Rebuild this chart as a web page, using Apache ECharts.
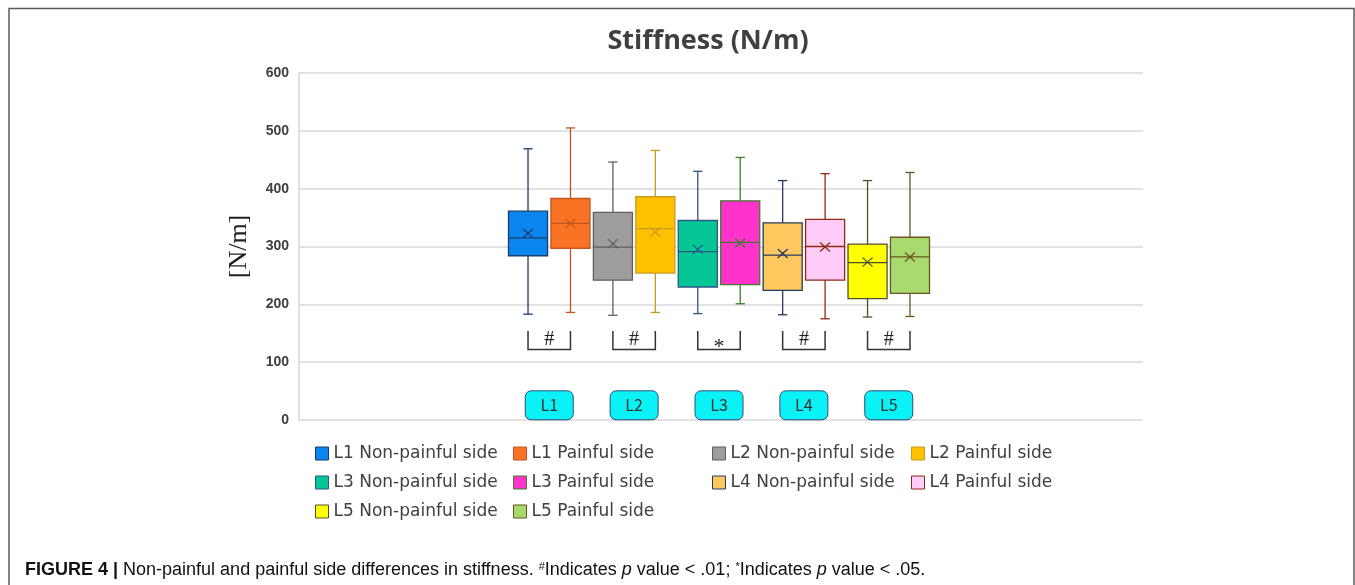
<!DOCTYPE html>
<html><head><meta charset="utf-8">
<script src="https://cdn.jsdelivr.net/npm/echarts@6/dist/echarts.min.js"></script>
<style>html,body{margin:0;padding:0;background:#fff}#c{width:1355px;height:585px}</style>
</head><body><div id="c"></div>
<script>
// ---- data ----
const categories = ['L1 Non-painful side','L1 Painful side','L2 Non-painful side','L2 Painful side','L3 Non-painful side','L3 Painful side','L4 Non-painful side','L4 Painful side','L5 Non-painful side','L5 Painful side'];
const mins    = [183, 186, 181, 186, 184, 201, 182, 175, 178, 179];
const q1s     = [284, 297, 242, 254, 230, 234, 224, 242, 210, 219];
const medians = [315, 340, 299, 331, 291, 307, 285, 300, 272, 282];
const q3s     = [361, 383, 359, 386, 345, 379, 341, 347, 304, 316];
const maxs    = [469, 505, 446, 466, 430, 454, 414, 426, 414, 428];
const means   = [323, 340, 305, 325, 295, 306, 288, 299, 273, 282];
const levels = ['L1','L2','L3','L4','L5'];
const significance = ['#','#','*','#','#'];
const yMin = 0, yMax = 600, yStep = 100;

// ---- styles ----
const fills   = ['#0B86EE','#FA7324','#9D9D9D','#FFC000','#05C796','#FF33CC','#FFC85F','#FFCCF7','#FFFF00','#A8DA70'];
const borders = ['#1B3C6E','#C0561F','#5E5E5E','#C99A22','#2C5586','#3E7E2A','#243A5E','#8E2A10','#505028','#6B5520'];
const bracketTop = 154, bracketBottom = 122, sigY = 138, labelY = 25.4;

const chart = echarts.init(document.getElementById('c'));

function renderBox(params, api) {
  const i = api.value(0);
  const pMin = api.coord([i, api.value(1)]);
  const pQ1 = api.coord([i, api.value(2)]);
  const pMed = api.coord([i, api.value(3)]);
  const pQ3 = api.coord([i, api.value(4)]);
  const pMax = api.coord([i, api.value(5)]);
  const pMean = api.coord([i, api.value(6)]);
  const band = api.size([1, 0])[0];
  const bw = band * 0.92, cap = band * 0.22;
  const cx = pMed[0];
  const stroke = borders[i], fill = fills[i];
  const ls = {stroke: stroke, lineWidth: 1.3};
  const L = (x1,y1,x2,y2) => ({type:'line', shape:{x1,y1,x2,y2}, style: ls});
  return {type:'group', children: [
    L(cx, pMax[1], cx, pQ3[1]),
    L(cx-cap/2, pMax[1], cx+cap/2, pMax[1]),
    L(cx, pQ1[1], cx, pMin[1]),
    L(cx-cap/2, pMin[1], cx+cap/2, pMin[1]),
    {type:'rect', shape:{x:cx-bw/2, y:pQ3[1], width:bw, height:pQ1[1]-pQ3[1]}, style:{fill: fill, stroke: stroke, lineWidth: 1.3}},
    L(cx-bw/2, pMed[1], cx+bw/2, pMed[1]),
    L(pMean[0]-5, pMean[1]-4.5, pMean[0]+5, pMean[1]+4.5),
    L(pMean[0]-5, pMean[1]+4.5, pMean[0]+5, pMean[1]-4.5)
  ]};
}

function renderAnno(params, api) {
  const a = api.value(0), b = api.value(1);
  const k = params.dataIndex;
  const t0 = api.coord([a, bracketTop]), b0 = api.coord([a, bracketBottom]);
  const t1 = api.coord([b, bracketTop]), b1 = api.coord([b, bracketBottom]);
  const mid = (t0[0] + t1[0]) / 2;
  const sp = api.coord([a, sigY]);
  const lp = api.coord([a, labelY]);
  const sig = significance[k];
  return {type:'group', children: [
    {type:'polyline', shape:{points:[t0, b0, b1, t1]}, style:{stroke:'#333', lineWidth:1.5, fill:null}},
    {type:'text', x: mid, y: sp[1] + (sig === '*' ? 7 : 0), style:{text: sig, textAlign:'center', textVerticalAlign:'middle', fontFamily:'Liberation Serif', fontSize: sig === '*' ? 22 : 20, fill:'#222'}},
    {type:'rect', shape:{x: mid - 24, y: lp[1] - 14.5, width: 48, height: 29, r: 6}, style:{fill:'#0AF2F6', stroke:'#2F4A7A', lineWidth:1}},
    {type:'text', x: mid, y: lp[1], style:{text: levels[k], textAlign:'center', textVerticalAlign:'middle', fontFamily:'Noto Sans CJK SC', fontSize:16, fill:'#333'}}
  ]};
}

const boxSeries = categories.map((name, i) => ({
  name: name,
  type: 'custom',
  xAxisIndex: 1, yAxisIndex: 1,
  clip: false,
  itemStyle: {color: fills[i], borderColor: borders[i], borderWidth: 1},
  renderItem: renderBox,
  encode: {x: 0, y: [1,2,3,4,5]},
  data: [[i, mins[i], q1s[i], medians[i], q3s[i], maxs[i], means[i]]]
}));

const annoSeries = {
  type: 'custom', xAxisIndex: 1, yAxisIndex: 1, clip: false, silent: true,
  renderItem: renderAnno,
  encode: {x: [0, 1]},
  data: levels.map((l, k) => [2*k, 2*k+1])
};

const legendCols = [[0,4,8],[1,5,9],[2,6],[3,7]];
const legendLeft = [315, 513, 712, 911];
const legends = legendCols.map((idx, c) => ({
  orient: 'vertical', left: legendLeft[c], top: 445, padding: 0, icon: 'rect',
  itemWidth: 13, itemHeight: 13, itemGap: 12, selectedMode: false,
  textStyle: {fontFamily: 'DejaVu Sans', fontSize: 17, color: '#404040', lineHeight: 16.5},
  data: idx.map(i => ({name: categories[i], itemStyle: {color: fills[i], borderColor: borders[i], borderWidth: 1}}))
}));

const option = {
  animation: false,
  backgroundColor: '#fff',
  grid: [
    {left: 299, right: 212, top: 73, bottom: 165},
    {left: 506.8, right: 423.8, top: 73, bottom: 165}
  ],
  xAxis: [
    {type: 'category', gridIndex: 0, data: [''], show: false},
    {type: 'category', gridIndex: 1, data: categories, show: false}
  ],
  yAxis: [
    {type: 'value', gridIndex: 0, min: yMin, max: yMax, interval: yStep,
     name: '[N/m]', nameLocation: 'middle', nameRotate: 90, nameGap: 47,
     nameTextStyle: {fontFamily: 'Liberation Serif', fontSize: 26, color: '#222'},
     axisLine: {show: true, lineStyle: {color: '#D9D9D9', width: 1.5}},
     axisTick: {show: false},
     axisLabel: {margin: 10, fontFamily: 'Liberation Sans', fontWeight: 'bold', fontSize: 14, color: '#404040'},
     splitLine: {lineStyle: {color: '#D9D9D9', width: 1.5}}},
    {type: 'value', gridIndex: 1, min: yMin, max: yMax, interval: yStep, show: false, splitLine: {show: false}}
  ],
  legend: legends,
  series: boxSeries.concat([annoSeries]),
  graphic: [
    {type: 'rect', silent: true, shape: {x: 9, y: 8.5, width: 1345, height: 700}, style: {fill: 'none', stroke: '#5a5a5a', lineWidth: 1.5}},
    {type: 'text', x: 708, y: 41, style: {text: 'Stiffness (N/m)', textAlign: 'center', textVerticalAlign: 'middle', fontFamily: 'Open Sans', fontWeight: 'bold', fontSize: 27, fill: '#404040'}},
    {type: 'text', x: 25, y: 570, style: {
      text: '{b|FIGURE 4 |} Non-painful and painful side differences in stiffness. {s|#}Indicates {i|p} value < .01; {s|*}Indicates {i|p} value < .05.',
      textVerticalAlign: 'middle', fontFamily: 'Liberation Sans', fontSize: 18, fill: '#111',
      rich: {
        b: {fontFamily: 'Liberation Sans', fontWeight: 'bold', fontSize: 18, fill: '#111'},
        s: {fontFamily: 'Liberation Sans', fontSize: 11, verticalAlign: 'top', fill: '#111'},
        i: {fontFamily: 'Liberation Sans', fontStyle: 'italic', fontSize: 18, fill: '#111'}
      }}}
  ]
};
chart.setOption(option);
</script>
</body></html>
